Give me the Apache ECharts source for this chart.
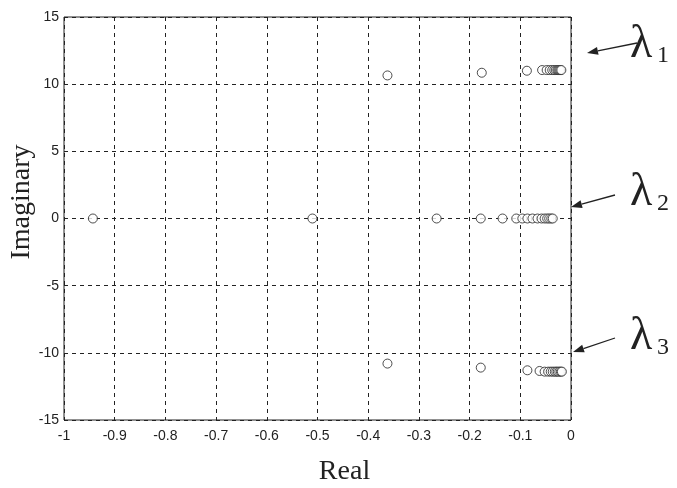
<!DOCTYPE html>
<html>
<head>
<meta charset="utf-8">
<script src="https://cdn.jsdelivr.net/npm/echarts@6/dist/echarts.min.js"></script>
<style>
  html, body { margin: 0; padding: 0; background: #fff; }
  #chart { width: 677px; height: 488px; }
</style>
</head>
<body>
<div id="chart"></div>
<script>
// eigenvalue branches (real part, imaginary part)
const lambda1Re = [-0.362, -0.176, -0.087, -0.057, -0.048, -0.042, -0.037, -0.033, -0.030, -0.027, -0.025, -0.023, -0.021, -0.019];
const lambda1Im = [10.65, 10.85, 11.0, 11.05, 11.05, 11.05, 11.05, 11.05, 11.05, 11.05, 11.05, 11.05, 11.05, 11.05];

const lambda2Re = [-0.943, -0.51, -0.265, -0.178, -0.135, -0.108, -0.096, -0.086, -0.076, -0.066, -0.058, -0.052, -0.047, -0.043, -0.039, -0.036];
const lambda2Im = [0, 0, 0, 0, 0, 0, 0, 0, 0, 0, 0, 0, 0, 0, 0, 0];

const lambda3Re = [-0.362, -0.178, -0.086, -0.062, -0.052, -0.045, -0.040, -0.036, -0.032, -0.029, -0.026, -0.023, -0.020, -0.018];
const lambda3Im = [-10.8, -11.1, -11.3, -11.35, -11.4, -11.4, -11.4, -11.4, -11.4, -11.4, -11.4, -11.4, -11.4, -11.4];

const xTicks = [-1, -0.9, -0.8, -0.7, -0.6, -0.5, -0.4, -0.3, -0.2, -0.1, 0];
const yTicks = [-15, -10, -5, 0, 5, 10, 15];

function pairs(re, im) {
  return re.map((v, i) => [v, im[i]]);
}

let myChart = echarts.init(document.getElementById("chart"));

const ink = "#222";
const serif = "'Liberation Serif', 'DejaVu Serif', serif";
const sans = "'Liberation Sans', Arial, sans-serif";

function arrow(x1, y1, x2, y2) {
  // line plus a small filled head at (x2, y2)
  const a = Math.atan2(y2 - y1, x2 - x1);
  const len = 11, w = 4;
  const bx = x2 - len * Math.cos(a), by = y2 - len * Math.sin(a);
  const px = -Math.sin(a) * w, py = Math.cos(a) * w;
  return [
    { type: "line", shape: { x1: x1, y1: y1, x2: bx, y2: by }, style: { stroke: ink, lineWidth: 1.3 } },
    { type: "polygon", shape: { points: [[x2, y2], [bx + px, by + py], [bx - px, by - py]] }, style: { fill: ink } },
  ];
}

function lam(x, y, sub) {
  return [
    { type: "text", left: x, top: y, style: { text: "λ", font: "46px " + serif, fill: ink } },
    { type: "text", left: x + 27, top: y + 22, style: { text: sub, font: "24px " + serif, fill: ink } },
  ];
}

let option = {
  backgroundColor: "#fff",
  animation: false,
  grid: {
    left: 64,
    right: 106,
    top: 17,
    bottom: 68,
    outerBoundsMode: "none",
    show: true,
    borderColor: ink,
    borderWidth: 1,
  },
  xAxis: {
    type: "value",
    min: -1,
    max: 0,
    interval: 0.1,
    name: "Real",
    nameLocation: "middle",
    nameGap: 38,
    nameTextStyle: { fontFamily: serif, fontSize: 28, color: ink, padding: [0, 0, 0, 54] },
    axisLine: { show: false },
    axisTick: { show: false },
    axisLabel: { color: ink, fontSize: 14, margin: 9, fontFamily: sans },
    splitLine: { show: true, lineStyle: { color: ink, type: [4, 4], width: 1 } },
  },
  yAxis: {
    type: "value",
    min: -15,
    max: 15,
    interval: 5,
    axisLine: { show: false },
    axisTick: { show: false },
    axisLabel: { color: ink, fontSize: 14, margin: 5, fontFamily: sans },
    splitLine: { show: true, lineStyle: { color: ink, type: [4, 4], width: 1 } },
  },
  series: [
    { name: "λ1", type: "scatter", data: pairs(lambda1Re, lambda1Im) },
    { name: "λ2", type: "scatter", data: pairs(lambda2Re, lambda2Im) },
    { name: "λ3", type: "scatter", data: pairs(lambda3Re, lambda3Im) },
  ].map((s) => Object.assign(s, {
    symbol: "circle",
    symbolSize: 9,
    itemStyle: { color: "#fff", borderColor: ink, borderWidth: 1 },
  })),
  graphic: [].concat(
    [{
      type: "text",
      x: 22,
      y: 202,
      rotation: Math.PI / 2,
      style: { text: "Imaginary", font: "28px " + serif, fill: ink, align: "center", verticalAlign: "middle" },
    }],
    arrow(637, 43, 587, 53),
    lam(630, 22, "1"),
    arrow(615, 195, 571, 207),
    lam(630, 170, "2"),
    arrow(615, 338, 573, 352),
    lam(630, 314, "3")
  ),
};

myChart.setOption(option);
</script>
</body>
</html>
